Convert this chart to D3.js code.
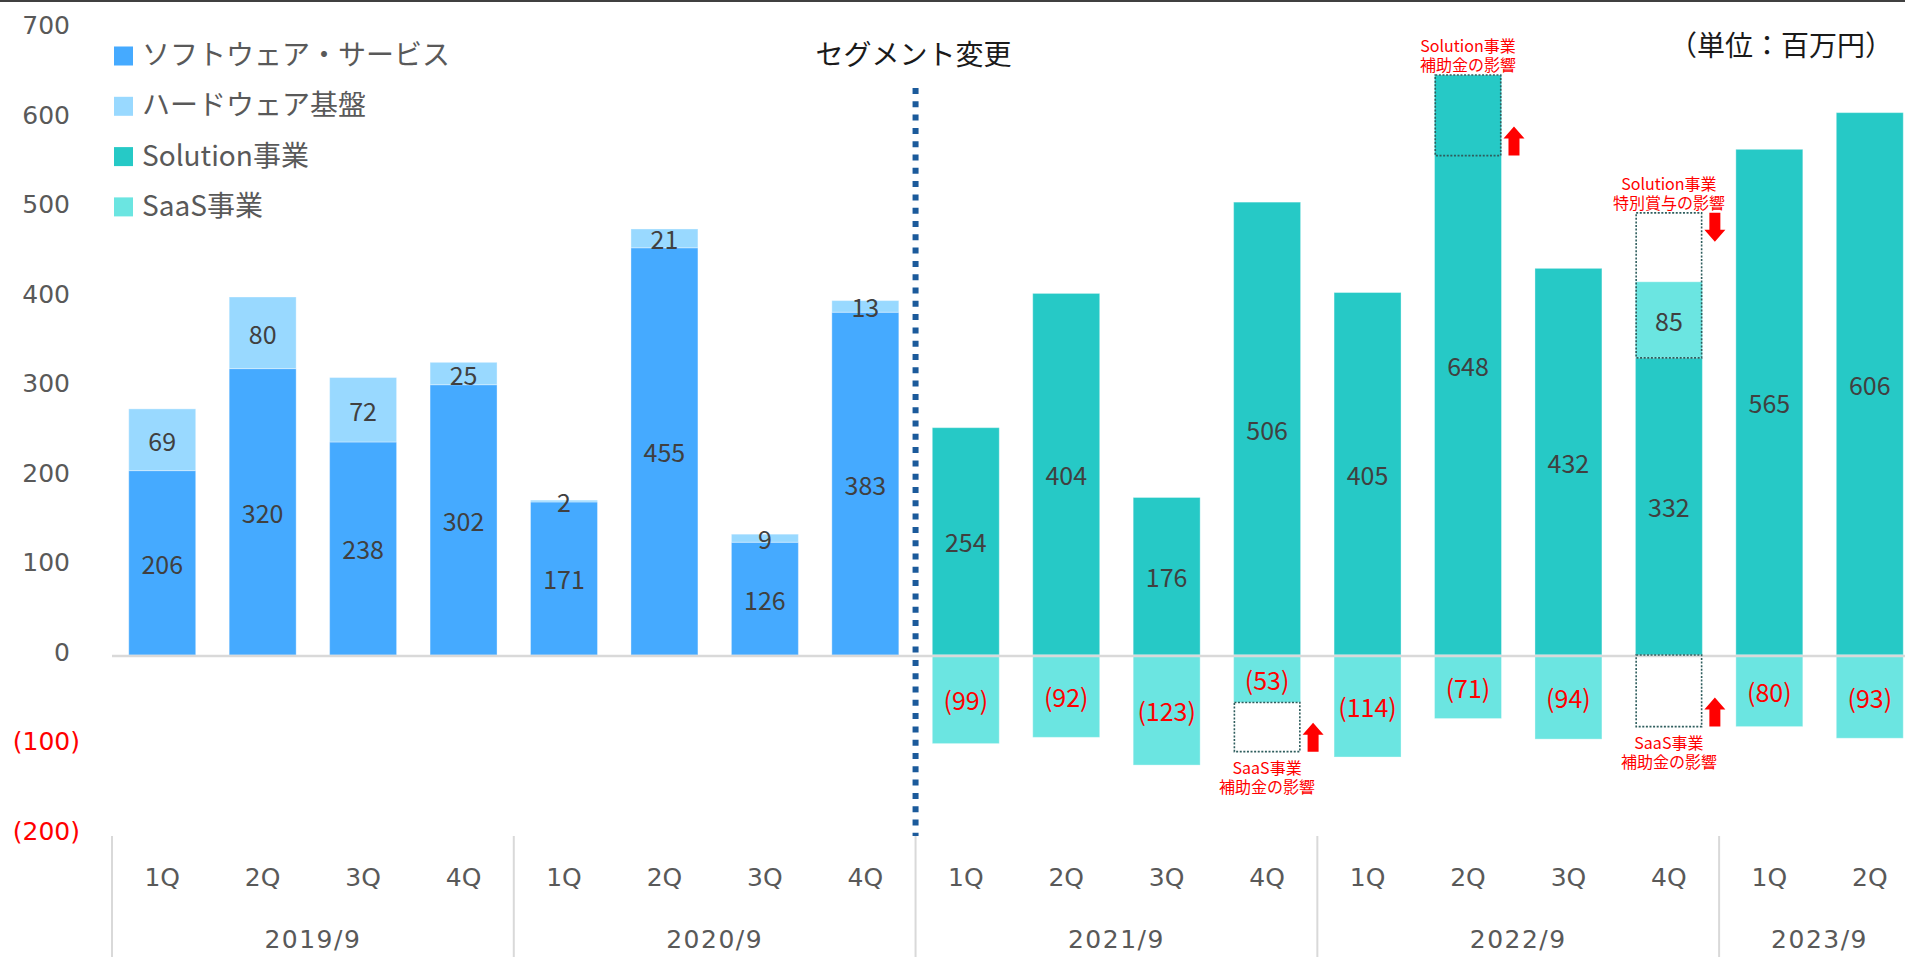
<!DOCTYPE html>
<html>
<head>
<meta charset="utf-8">
<script src="https://cdn.jsdelivr.net/npm/d3@7"></script>
<style>
  html, body { margin: 0; padding: 0; background: #fff; }
  svg { display: block; }
</style>
</head>
<body>
<script>
// ---------- data ----------
const categories = ["1Q","2Q","3Q","4Q","1Q","2Q","3Q","4Q","1Q","2Q","3Q","4Q","1Q","2Q","3Q","4Q","1Q","2Q"];
const yearOfCategory = ["2019/9","2019/9","2019/9","2019/9","2020/9","2020/9","2020/9","2020/9","2021/9","2021/9","2021/9","2021/9","2022/9","2022/9","2022/9","2022/9","2023/9","2023/9"];
const software = [206,320,238,302,171,455,126,383,null,null,null,null,null,null,null,null,null,null];
const hardware = [69,80,72,25,2,21,9,13,null,null,null,null,null,null,null,null,null,null];
const solution = [null,null,null,null,null,null,null,null,254,404,176,506,405,648,432,332,565,606];
const saas     = [null,null,null,null,null,null,null,null,-99,-92,-123,-53,-114,-71,-94,85,-80,-93];
const yTicks = [-200,-100,0,100,200,300,400,500,600,700];
const seriesNames = ["ソフトウェア・サービス","ハードウェア基盤","Solution事業","SaaS事業"];
const seriesColors = ["#45AAFF","#99D9FF","#26C9C6","#6BE5E1"];
// annotation "effect" boxes
const effectCat  = [13, 15, 11, 15];
const effectFrom = [558, 332, -53, 0];
const effectTo   = [648, 494, -108, -80];
const effectDir  = ["up","down","up","up"];
const effectText = [["Solution事業","補助金の影響"],["Solution事業","特別賞与の影響"],["SaaS事業","補助金の影響"],["SaaS事業","補助金の影響"]];

// ---------- setup ----------
const W = 1905, H = 957;
const svg = d3.select("body").append("svg").attr("width", W).attr("height", H);
const latin = "'DejaVu Sans', 'Noto Sans CJK JP', sans-serif";
const jp = "'Noto Sans CJK JP', 'Noto Sans', sans-serif";

const x = d3.scaleBand().domain(d3.range(categories.length)).range([112, 1920]).paddingInner(1/3).paddingOuter(1/6);
const y = d3.scaleLinear().domain([-200, 700]).range([834, 28.5]);

// top border
svg.append("line").attr("x1",0).attr("x2",W).attr("y1",1).attr("y2",1).attr("stroke","#404040").attr("stroke-width",2);

// ---------- bars ----------
const segs = [];
categories.forEach((c, i) => {
  if (software[i] != null) {
    segs.push({i, v0: 0, v1: software[i], val: software[i], color: seriesColors[0]});
    segs.push({i, v0: software[i], v1: software[i] + hardware[i], val: hardware[i], color: seriesColors[1]});
  }
  if (solution[i] != null) {
    segs.push({i, v0: 0, v1: solution[i], val: solution[i], color: seriesColors[2]});
    if (saas[i] < 0) segs.push({i, v0: 0, v1: saas[i], val: saas[i], color: seriesColors[3]});
    else segs.push({i, v0: solution[i], v1: solution[i] + saas[i], val: saas[i], color: seriesColors[3]});
  }
});

svg.append("g").selectAll("rect").data(segs).join("rect")
  .attr("x", d => x(d.i))
  .attr("width", x.bandwidth())
  .attr("y", d => Math.min(y(d.v0), y(d.v1)))
  .attr("height", d => Math.abs(y(d.v0) - y(d.v1)))
  .attr("fill", d => d.color)
  .attr("stroke", "rgba(255,255,255,0.35)")
  .attr("stroke-width", 1);

// zero line
svg.append("line").attr("x1",112).attr("x2",W).attr("y1",y(0)+1).attr("y2",y(0)+1).attr("stroke","#D9D9D9").attr("stroke-width",2.5);

// data labels
const fmt = v => v < 0 ? `(${-v})` : `${v}`;
svg.append("g").selectAll("text").data(segs).join("text")
  .attr("x", d => x(d.i) + x.bandwidth()/2)
  .attr("y", d => (y(d.v0) + y(d.v1))/2)
  .attr("text-anchor","middle")
  .attr("dominant-baseline","central")
  .attr("font-family", jp)
  .attr("font-size", 25)
  .attr("fill", d => d.val < 0 ? "#FF0000" : "#404040")
  .text(d => fmt(d.val));

// ---------- effect annotations ----------
const eff = effectCat.map((c, k) => ({c, from: effectFrom[k], to: effectTo[k], dir: effectDir[k], text: effectText[k]}));
const ga = svg.append("g");
eff.forEach(e => {
  const x0 = x(e.c), bw = x.bandwidth();
  const yTop = y(Math.max(e.from, e.to)), yBot = y(Math.min(e.from, e.to));
  ga.append("rect").attr("x", x0 + 0.75).attr("y", yTop).attr("width", bw - 1.5).attr("height", yBot - yTop)
    .attr("fill","none").attr("stroke","#2E5D5D").attr("stroke-width",1.6).attr("stroke-dasharray","2,1.6");
  // arrow
  const ax = x0 + bw + 2, aw = 21, ah = 29, hh = 12, sw = 11;
  let pts;
  if (e.dir === "up") {
    const b = yBot, t = yBot - ah;
    pts = [[ax + aw/2, t],[ax + aw, t + hh],[ax + aw/2 + sw/2, t + hh],[ax + aw/2 + sw/2, b],[ax + aw/2 - sw/2, b],[ax + aw/2 - sw/2, t + hh],[ax, t + hh]];
  } else {
    const t = yTop, b = yTop + ah;
    pts = [[ax + aw/2, b],[ax + aw, b - hh],[ax + aw/2 + sw/2, b - hh],[ax + aw/2 + sw/2, t],[ax + aw/2 - sw/2, t],[ax + aw/2 - sw/2, b - hh],[ax, b - hh]];
  }
  ga.append("polygon").attr("points", pts.map(p => p.join(",")).join(" ")).attr("fill","#FF0000");
  // text (one text element, two lines)
  const cx = x0 + bw/2;
  const above = e.from >= 0 && e.to > 0;
  const firstY = above ? yTop - 30 : yBot + 15;
  const t = ga.append("text").attr("x", cx).attr("y", firstY)
    .attr("text-anchor","middle").attr("dominant-baseline","central")
    .attr("font-family", jp).attr("font-size", 16).attr("fill","#FF0000");
  e.text.forEach((s, li) => {
    t.append("tspan").attr("x", cx).attr("dy", li === 0 ? 0 : 19).text(s);
  });
});

// ---------- y axis ----------
const yAxis = d3.axisLeft(y).tickValues(yTicks).tickSize(0).tickPadding(0).tickFormat(fmt);
const gy = svg.append("g").attr("transform","translate(70,0)").call(yAxis);
gy.select(".domain").remove();
gy.selectAll("text")
  .attr("font-family", latin).attr("font-size", 25)
  .attr("fill", d => d < 0 ? "#FF0000" : "#595959")
  .attr("x", d => d < 0 ? 10 : 0)
  .attr("dy", "0.32em")
  .attr("transform", "translate(0,-3)");

// ---------- x axis ----------
const xAxis = d3.axisBottom(x).tickSize(0).tickPadding(0).tickFormat(i => categories[i]);
const gx = svg.append("g").attr("transform","translate(0,877)").call(xAxis);
gx.select(".domain").remove();
gx.selectAll("text").attr("font-family", latin).attr("font-size", 25).attr("fill","#595959").attr("dy","0.35em");

// year groups
const groups = [];
yearOfCategory.forEach((yr, i) => {
  const g = groups.find(o => o.year === yr);
  if (g) g.end = i; else groups.push({year: yr, start: i, end: i});
});
const step = x.step();
const edge = i => x(i) - step * x.paddingInner() / 2;
svg.append("g").selectAll("line").data(groups).join("line")
  .attr("x1", d => edge(d.start)).attr("x2", d => edge(d.start))
  .attr("y1", 836).attr("y2", H)
  .attr("stroke","#D9D9D9").attr("stroke-width",2);
svg.append("g").selectAll("text").data(groups).join("text")
  .attr("x", d => (edge(d.start) + edge(d.end) + step) / 2)
  .attr("y", 939)
  .attr("text-anchor","middle").attr("dominant-baseline","central")
  .attr("font-family", latin).attr("font-size", 25).attr("letter-spacing", 1.5)
  .attr("fill","#595959").text(d => d.year);

// segment change dotted line
const segX = edge(8);
svg.append("line").attr("x1", segX).attr("x2", segX).attr("y1", 88).attr("y2", 836)
  .attr("stroke","#1B5A9B").attr("stroke-width",6).attr("stroke-dasharray","6,7.3");
svg.append("text").attr("x", segX - 2).attr("y", 53)
  .attr("text-anchor","middle").attr("dominant-baseline","central")
  .attr("font-family", jp).attr("font-size", 28).attr("fill","#1a1a1a").text("セグメント変更");

// unit
svg.append("text").attr("x", 1893).attr("y", 44)
  .attr("text-anchor","end").attr("dominant-baseline","central")
  .attr("font-family", jp).attr("font-size", 28).attr("fill","#1a1a1a").text("（単位：百万円）");

// ---------- legend ----------
const lg = svg.append("g");
seriesNames.forEach((n, k) => {
  const cy = 56 + k * 50.3;
  lg.append("rect").attr("x", 114).attr("y", cy - 9.5).attr("width", 19).attr("height", 19).attr("fill", seriesColors[k]);
  lg.append("text").attr("x", 142).attr("y", cy - 3).attr("dominant-baseline","central")
    .attr("font-family", jp).attr("font-size", 28).attr("fill","#595959").text(n);
});
</script>
</body>
</html>
